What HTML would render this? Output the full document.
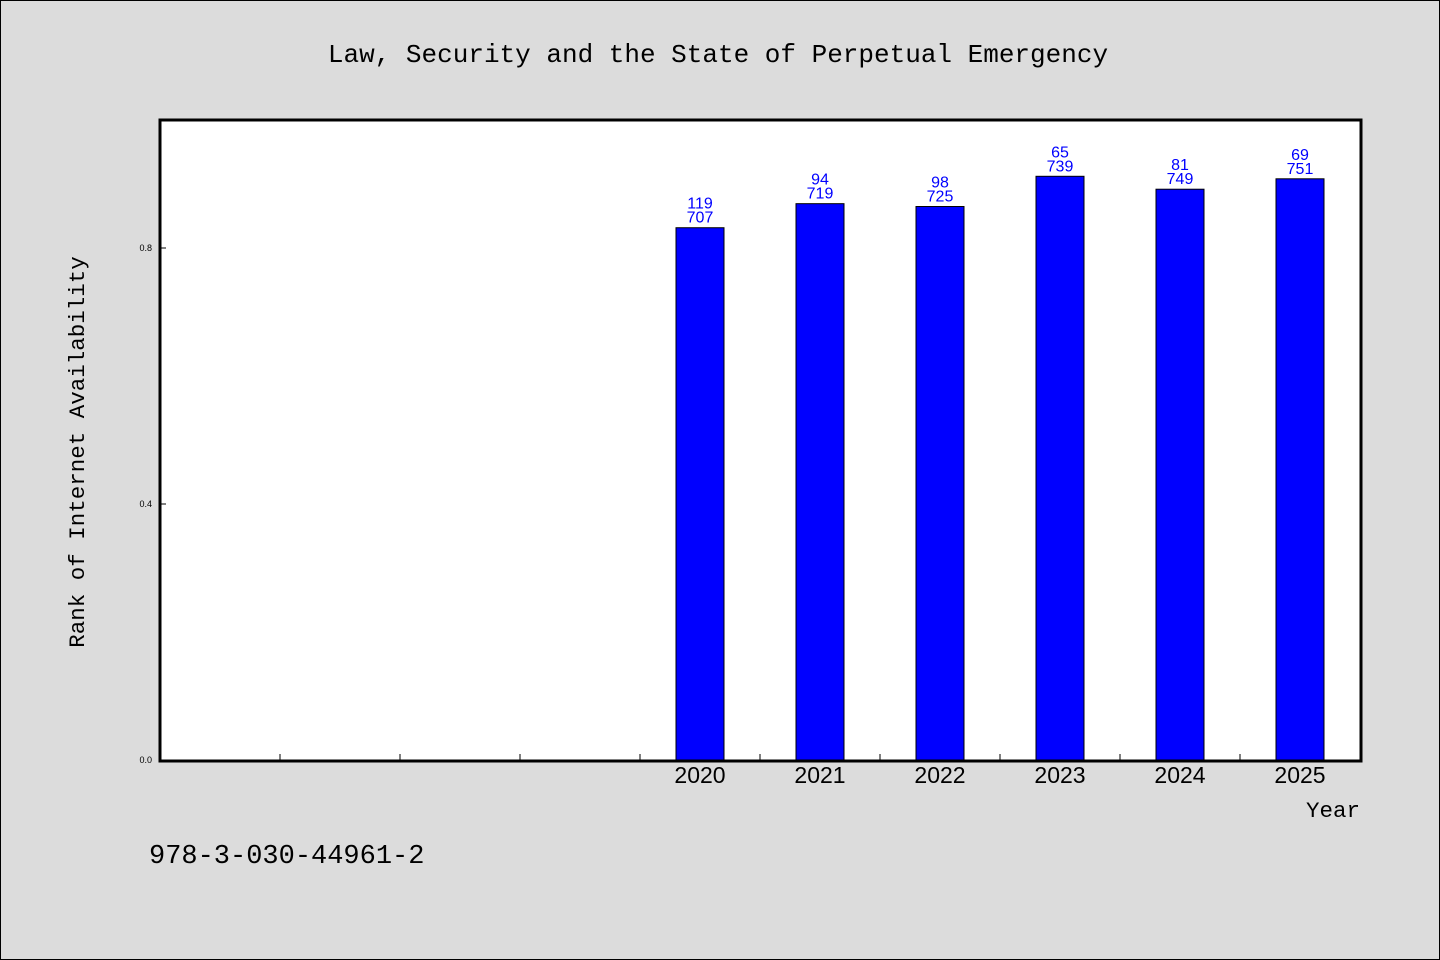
<!DOCTYPE html>
<html><head><meta charset="utf-8"><style>
body{margin:0;background:#dcdcdc;}
svg{display:block;font-family:"Liberation Mono","WenQuanYi Zen Hei",monospace;}
</style></head><body>
<svg width="1440" height="960" xmlns="http://www.w3.org/2000/svg">
<rect x="0.5" y="0.5" width="1439" height="959" fill="#dcdcdc" stroke="#000"/>
<text x="718" y="62" font-size="26" text-anchor="middle">Law, Security and the State of Perpetual Emergency</text>
<rect x="160" y="120" width="1201" height="641" fill="#fff" stroke="#000" stroke-width="3"/>
<text transform="translate(84,452) rotate(-90)" font-size="22.5" text-anchor="middle">Rank of Internet Availability</text>
<text x="1360" y="817" font-size="22.5" text-anchor="end">Year</text>
<text x="149" y="863" font-size="27">978-3-030-44961-2</text>
<g id="ticks"></g><g id="bars"></g>
</svg>
<script>
const categories=["","","","","2020","2021","2022","2023","2024","2025"];
const ranks=[null,null,null,null,119,94,98,65,81,69];
const totals=[null,null,null,null,707,719,725,739,749,751];
const yTicks=[0.0,0.4,0.8];
const NS="http://www.w3.org/2000/svg";
const x0=160,x1=1360,yb=760,yt=120;
const slot=(x1-x0)/categories.length;
const xc=i=>x0+slot*(i+0.5);
const ys=v=>yb-(v)*(yb-yt);
function mk(t,a,p){const e=document.createElementNS(NS,t);for(const k in a)e.setAttribute(k,a[k]);p.appendChild(e);return e;}
const tg=document.getElementById('ticks'),bg=document.getElementById('bars');
yTicks.forEach(v=>{
 const l=mk('line',{x1:x0,x2:x0+6,y1:ys(v),y2:ys(v),stroke:'#000'},tg);
 
 
 const t=mk('text',{x:x0-8,y:ys(v)+3,'font-size':9,'text-anchor':'end','font-family':'Liberation Sans, sans-serif'},tg);
 
 
 t.textContent=v.toFixed(1);
});
for(let i=1;i<categories.length;i++){
 const l=mk('line',{x1:x0+slot*i,x2:x0+slot*i,y1:yb,y2:yb-6,stroke:'#000'},tg);
 
 
}
categories.forEach((c,i)=>{
 if(!c)return;
 const t=mk('text',{x:xc(i),y:yb+23,'font-size':23,'text-anchor':'middle','font-family':'Liberation Sans, sans-serif'},tg);
 
 
 t.textContent=c;
 if(ranks[i]==null)return;
 const v=1-ranks[i]/totals[i];
 const b=mk('rect',{x:xc(i)-24,y:ys(v),width:48,height:yb-ys(v),fill:'#0000ff',stroke:'#000','stroke-width':1},bg);
 
 
 const r=mk('text',{x:xc(i),y:ys(v)-19,'font-size':16,'text-anchor':'middle',fill:'#0000ff','font-family':'Liberation Sans, sans-serif'},bg);
 
 
 r.textContent=ranks[i];
 const n=mk('text',{x:xc(i),y:ys(v)-5,'font-size':16,'text-anchor':'middle',fill:'#0000ff','font-family':'Liberation Sans, sans-serif'},bg);
 
 
 n.textContent=totals[i];
});
</script>
</body></html>
